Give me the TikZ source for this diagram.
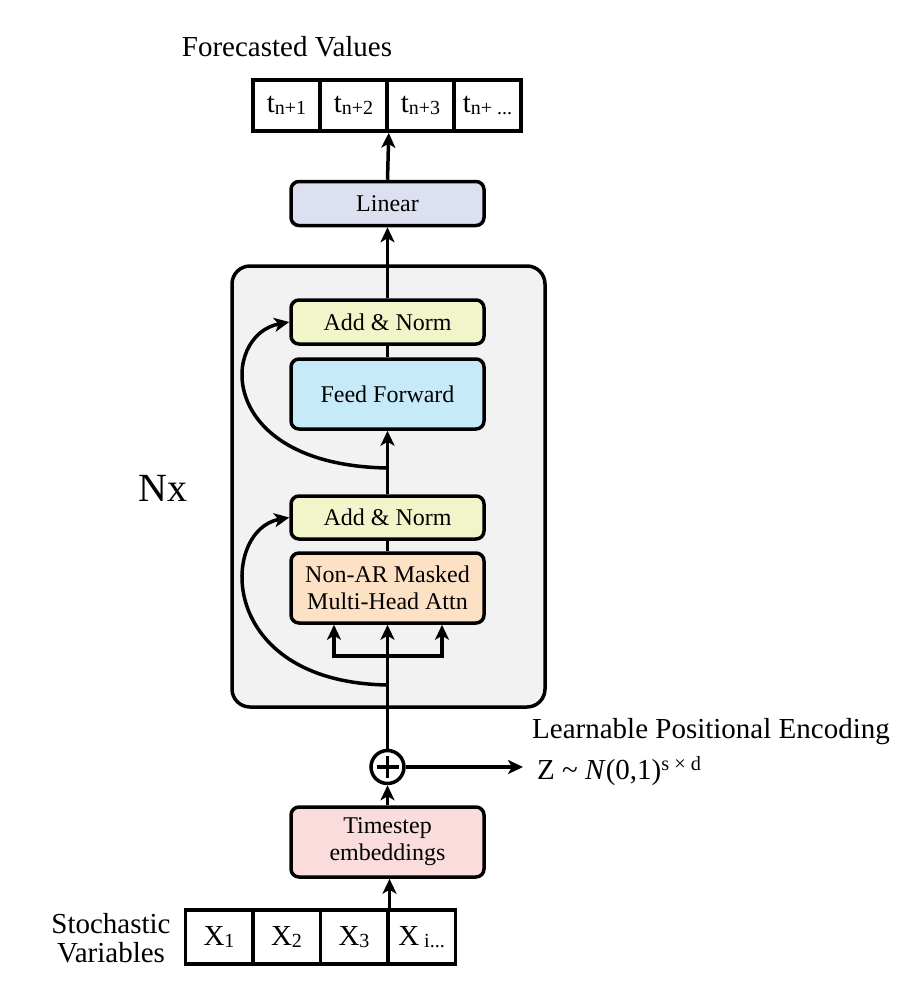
\documentclass[tikz,border=0pt]{standalone}
\usepackage{fontspec}
\setmainfont{Liberation Serif}
\usetikzlibrary{arrows.meta}
\definecolor{linc}{HTML}{DDE0F1}
\definecolor{addc}{HTML}{F1F5C9}
\definecolor{ffc}{HTML}{C7EAF9}
\definecolor{attc}{HTML}{FDE1C4}
\definecolor{tsc}{HTML}{FADCDD}
\definecolor{bgc}{HTML}{F2F2F2}
\newcommand{\fsz}[1]{\fontsize{#1}{#1}\selectfont}
\newcommand{\sbx}[1]{\raisebox{-2pt}{\fontsize{20}{20}\selectfont #1}}
\begin{document}
\begin{tikzpicture}[x=1pt,y=-1pt,
  blk/.style={draw, line width=3.5pt, rounded corners=8pt, minimum width=193pt,
    inner sep=0pt, align=center, font=\fontsize{24}{27}\selectfont},
  cell/.style={draw, line width=3.5pt, inner sep=0pt, font=\fsz{29}},
  conn/.style={line width=3.5pt},
  arr/.style={conn, -{Stealth[length=15pt,width=14pt,inset=4pt]}},
  lbl/.style={inner sep=0pt}
]
\useasboundingbox (0,0) rectangle (912,998);

% background block
\node[draw, line width=3.5pt, fill=bgc, rounded corners=18pt, minimum width=313pt,
  minimum height=441pt, inner sep=0pt] (bg) at (388.5,486.5) {};

% title
\node[lbl, font=\fsz{29}] (fv) at (287,47) {Forecasted Values};

% output cells
\node[cell, minimum width=67pt, minimum height=51pt] (c1) at (286.5,105.5) {t\sbx{n+1}};
\node[cell, minimum width=67pt, minimum height=51pt] (c2) at (353.5,105.5) {t\sbx{n+2}};
\node[cell, minimum width=67pt, minimum height=51pt] (c3) at (420.5,105.5) {t\sbx{n+3}};
\node[cell, minimum width=67pt, minimum height=51pt] (c4) at (487.5,105.5) {t\sbx{n+ ...}};

% blocks
\node[blk, fill=linc, minimum height=44pt] (lin) at (387.5,203.5) {Linear};
\node[blk, fill=addc, minimum height=44pt] (an1) at (387.5,322) {Add \& Norm};
\node[blk, fill=ffc, minimum height=70pt] (ff) at (387.5,394) {Feed Forward};
\node[blk, fill=addc, minimum height=43pt] (an2) at (387.5,517.5) {Add \& Norm};
\node[blk, fill=attc, minimum height=70pt] (att) at (387.5,588) {Non-AR Masked\\Multi-Head Attn};
\node[blk, fill=tsc, minimum height=70pt] (ts) at (387.5,842) {Timestep\\embeddings};

% oplus
\node[circle, draw, line width=3.5pt, fill=white, minimum size=33pt, inner sep=0pt] (op) at (387.5,767) {};
\draw[conn] ([xshift=-11pt]op.center) -- ([xshift=11pt]op.center);
\draw[conn] ([yshift=-11pt]op.center) -- ([yshift=11pt]op.center);

% Nx
\node[lbl, font=\fsz{40}] (nx) at (163,488) {Nx};

% positional encoding
\node[lbl, anchor=west, font=\fsz{29}] (lpe) at (532,732) {Learnable Positional Encoding};
\node[lbl, anchor=west, font=\fsz{29}] (zz) at (537,771) {Z \textasciitilde{} \textit{N}(0,1)\textsuperscript{s × d}};
\coordinate (zend) at (523,767);

% input cells
\node[cell, minimum width=67.5pt, minimum height=54pt] (b1) at (219,937) {X\sbx{1}};
\node[cell, minimum width=67.5pt, minimum height=54pt] (b2) at (286.5,937) {X\sbx{2}};
\node[cell, minimum width=67.5pt, minimum height=54pt] (b3) at (354,937) {X\sbx{3}};
\node[cell, minimum width=67.5pt, minimum height=54pt] (b4) at (421.5,937) {X\sbx{ i...}};
\node[lbl, align=center, font=\fontsize{29}{29}\selectfont] (sv) at (111,938) {Stochastic\\Variables};

% connectors
\draw[arr] (b3.north east) -- (b3.north east |- ts.south);
\draw[arr] (ts.north) -- (op.south);
\draw[arr] (op.east) -- (zend);
\draw[arr] (op.north) -- (att.south);
\coordinate (h) at (387.5,656);
\coordinate (hl) at (334,656);
\coordinate (hr) at (442,656);
\draw[arr] (h) -| (hl |- att.south);
\draw[arr] (h) -| (hr |- att.south);
\draw[conn] (att.north) -- (an2.south);
\draw[arr] (an2.north) -- (ff.south);
\draw[conn] (ff.north) -- (an1.south);
\draw[arr] (an1.north) -- (lin.south);
\draw[arr] (lin.north) -- (c2.south east);

% residual skips
\coordinate (s1) at (387.5,468);
\coordinate (s2) at (387.5,685);
\draw[arr] (s1) .. controls (215,465) and (220,335) .. (an1.west);
\draw[arr] (s2) .. controls (215,682) and (220,530) .. (an2.west);
\end{tikzpicture}
\end{document}
